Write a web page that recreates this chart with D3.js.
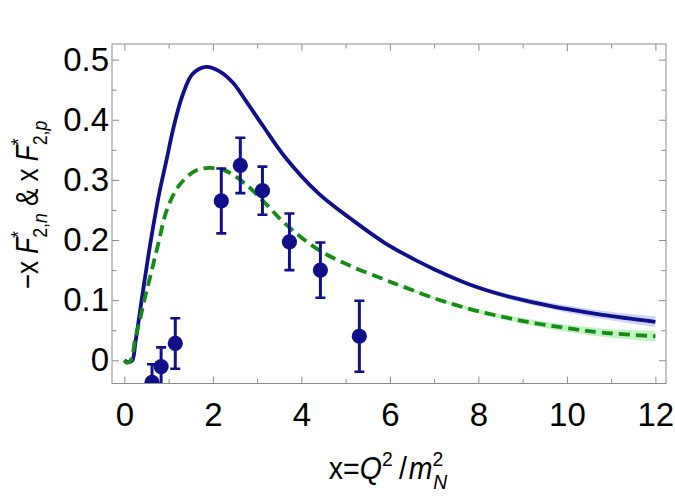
<!DOCTYPE html>
<html>
<head>
<meta charset="utf-8">
<script src="https://cdn.jsdelivr.net/npm/d3@7"></script>
<style>
  body { margin: 0; background: #fff; }
  svg text { font-family: "Liberation Sans", Arial, sans-serif; fill: #000; }
</style>
</head>
<body>
<svg id="chart" width="675" height="498"></svg>
<script>
// solid curve (blue)
const blueX = [0, 0.1, 0.18, 0.25, 0.35, 0.45, 0.55, 0.65, 0.79, 0.94, 1.12, 1.31, 1.54, 1.84, 2.14, 2.45, 2.75, 3.13, 3.62, 4.38, 5.14, 5.89, 6.65, 7.01, 7.77, 8.53, 9.29, 10.05, 10.8, 12];
const blueY = [0, -0.003, 0.0, 0.03, 0.08, 0.13, 0.178, 0.222, 0.279, 0.329, 0.39, 0.44, 0.476, 0.488, 0.481, 0.462, 0.431, 0.39, 0.339, 0.278, 0.234, 0.195, 0.164, 0.151, 0.127, 0.109, 0.0955, 0.0845, 0.0755, 0.064];
const blueBand = [0, 0, 0, 0, 0, 0, 0, 0, 0, 0, 0, 0, 0, 0, 0, 0, 0, 0, 0, 0, 0, 0, 0.001, 0.002, 0.003, 0.004, 0.005, 0.006, 0.007, 0.009];

// dashed curve (green)
const greenX = [0, 0.05, 0.12, 0.17, 0.24, 0.35, 0.47, 0.62, 0.77, 0.96, 1.23, 1.6, 1.91, 2.29, 2.74, 3.15, 3.62, 4.38, 5.14, 5.82, 6.26, 7.01, 7.77, 8.53, 9.29, 10.05, 10.8, 12];
const greenY = [0, -0.004, -0.002, 0.005, 0.034, 0.067, 0.106, 0.15, 0.195, 0.25, 0.29, 0.315, 0.32, 0.315, 0.293, 0.264, 0.228, 0.184, 0.156, 0.136, 0.1235, 0.103, 0.086, 0.0725, 0.0615, 0.053, 0.046, 0.04];
const greenBand = [0, 0, 0, 0, 0, 0, 0, 0, 0, 0, 0, 0, 0, 0, 0, 0, 0, 0, 0, 0, 0.001, 0.002, 0.003, 0.004, 0.005, 0.006, 0.007, 0.009];

// data points with error bars
const pointX = [0.625, 0.83, 1.15, 2.19, 2.62, 3.12, 3.73, 4.43, 5.31];
const pointY = [-0.0366, -0.0105, 0.028, 0.265, 0.324, 0.282, 0.197, 0.150, 0.040];
const pointErr = [0.03, 0.032, 0.042, 0.054, 0.046, 0.04, 0.047, 0.046, 0.059];

const xMajor = [0, 2, 4, 6, 8, 10, 12];
const xMinor = [1, 3, 5, 7, 9, 11];
const yMajor = [0, 0.1, 0.2, 0.3, 0.4, 0.5];
const yMinor = [0.05, 0.15, 0.25, 0.35, 0.45];

const pLeft = 112, pRight = 666, pTop = 44, pBottom = 383.5;
const blue = '#10108a', green = '#168c16';

const svg = d3.select('#chart');

const x = d3.scaleLinear().domain([-0.28, 12.24]).range([pLeft, pRight]);
const y = d3.scaleLinear().domain([-0.0386, 0.526]).range([pBottom, pTop]);

svg.append('clipPath').attr('id', 'plot')
  .append('rect')
  .attr('x', pLeft).attr('y', pTop)
  .attr('width', pRight - pLeft).attr('height', pBottom - pTop);

const plot = svg.append('g').attr('clip-path', 'url(#plot)');

// bands
const blueData = blueX.map((v, i) => ({x: v, y: blueY[i], e: blueBand[i]}));
const greenData = greenX.map((v, i) => ({x: v, y: greenY[i], e: greenBand[i]}));

const band = d3.area()
  .curve(d3.curveCatmullRom.alpha(0.5))
  .x(d => x(d.x))
  .y0(d => y(d.y - d.e))
  .y1(d => y(d.y + d.e));

plot.append('path').datum(greenData).attr('d', band)
  .attr('fill', 'rgb(120,225,120)').attr('opacity', 0.45);
plot.append('path').datum(blueData).attr('d', band)
  .attr('fill', 'rgb(150,160,250)').attr('opacity', 0.45);

const line = d3.line()
  .curve(d3.curveCatmullRom.alpha(0.5))
  .x(d => x(d.x))
  .y(d => y(d.y));

plot.append('path').datum(blueData).attr('d', line)
  .attr('fill', 'none').attr('stroke', blue).attr('stroke-width', 3.8);

plot.append('path').datum(greenData).attr('d', line)
  .attr('fill', 'none').attr('stroke', green).attr('stroke-width', 3.8)
  .attr('stroke-dasharray', '11,6');

// error bars + points
const pts = pointX.map((v, i) => ({x: v, y: pointY[i], e: pointErr[i]}));
const pg = plot.append('g').attr('stroke', blue).attr('fill', blue);

pg.selectAll('line.bar').data(pts).join('line').attr('class', 'bar')
  .attr('x1', d => x(d.x)).attr('x2', d => x(d.x))
  .attr('y1', d => y(d.y - d.e)).attr('y2', d => y(d.y + d.e))
  .attr('stroke-width', 3);

pg.selectAll('line.cap').data(pts.flatMap(d => [[d.x, d.y - d.e], [d.x, d.y + d.e]]))
  .join('line').attr('class', 'cap')
  .attr('x1', d => x(d[0]) - 5).attr('x2', d => x(d[0]) + 5)
  .attr('y1', d => y(d[1])).attr('y2', d => y(d[1]))
  .attr('stroke-width', 2.6);

pg.selectAll('circle').data(pts).join('circle')
  .attr('cx', d => x(d.x)).attr('cy', d => y(d.y))
  .attr('r', 7.6).attr('stroke', 'none');

// frame and ticks
const frameColor = '#8c8c8c';
function styleAxis(g) {
  g.select('.domain').remove();
  g.selectAll('.tick line').attr('stroke', frameColor);
  g.selectAll('.tick text').attr('font-size', 33).attr('fill', '#000');
}

svg.append('g').attr('transform', `translate(0,${pBottom})`)
  .call(d3.axisBottom(x).tickValues(xMajor).tickSize(-7).tickPadding(19).tickFormat(d3.format('d')))
  .call(styleAxis);
svg.append('g').attr('transform', `translate(0,${pBottom})`)
  .call(d3.axisBottom(x).tickValues(xMinor).tickSize(-4.5).tickFormat(''))
  .call(styleAxis);
svg.append('g').attr('transform', `translate(0,${pTop})`)
  .call(d3.axisTop(x).tickValues(xMajor).tickSize(-7).tickFormat(''))
  .call(styleAxis);
svg.append('g').attr('transform', `translate(0,${pTop})`)
  .call(d3.axisTop(x).tickValues(xMinor).tickSize(-4.5).tickFormat(''))
  .call(styleAxis);

svg.append('g').attr('transform', `translate(${pLeft},0)`)
  .call(d3.axisLeft(y).tickValues(yMajor).tickSize(-7).tickPadding(3).tickFormat(d => d === 0 ? '0' : d3.format('.1f')(d)))
  .call(styleAxis);
svg.append('g').attr('transform', `translate(${pLeft},0)`)
  .call(d3.axisLeft(y).tickValues(yMinor).tickSize(-4.5).tickFormat(''))
  .call(styleAxis);
svg.append('g').attr('transform', `translate(${pRight},0)`)
  .call(d3.axisRight(y).tickValues(yMajor).tickSize(-7).tickFormat(''))
  .call(styleAxis);
svg.append('g').attr('transform', `translate(${pRight},0)`)
  .call(d3.axisRight(y).tickValues(yMinor).tickSize(-4.5).tickFormat(''))
  .call(styleAxis);

svg.append('rect')
  .attr('x', pLeft).attr('y', pTop)
  .attr('width', pRight - pLeft).attr('height', pBottom - pTop)
  .attr('fill', 'none').attr('stroke', frameColor).attr('stroke-width', 1);

// x axis title: x=Q^2/m_N^2
const xt = svg.append('text')
  .attr('transform', 'translate(388,479) scale(0.92,1)')
  .attr('text-anchor', 'middle').attr('font-size', 31);
xt.append('tspan').text('x=');
xt.append('tspan').attr('font-style', 'italic').text('Q');
xt.append('tspan').attr('font-size', 21).attr('dy', -13).text('2');
xt.append('tspan').attr('dx', 7).attr('dy', 13).text('/');
xt.append('tspan').attr('dx', 2).attr('font-style', 'italic').text('m');
xt.append('tspan').attr('font-size', 21).attr('dy', -13).text('2');
xt.append('tspan').attr('font-size', 21).attr('font-style', 'italic').attr('dx', -11).attr('dy', 23).text('N');

// y axis title: -x F*_{2,n} & x F*_{2,p}
const yt = svg.append('text')
  .attr('transform', 'translate(38,205) rotate(-90) scale(0.84,1)')
  .attr('text-anchor', 'middle').attr('font-size', 31);
yt.append('tspan').text('\u2212x ');
yt.append('tspan').attr('font-style', 'italic').text('F');
yt.append('tspan').attr('font-size', 21).attr('dy', -13).text('*');
const s1 = yt.append('tspan').attr('font-size', 21).attr('dx', -8).attr('dy', 22);
s1.append('tspan').text('2,');
s1.append('tspan').attr('font-style', 'italic').text('n');
yt.append('tspan').attr('dy', -9).text(' & x ');
yt.append('tspan').attr('font-style', 'italic').text('F');
yt.append('tspan').attr('font-size', 21).attr('dy', -13).text('*');
const s2 = yt.append('tspan').attr('font-size', 21).attr('dx', -8).attr('dy', 22);
s2.append('tspan').text('2,');
s2.append('tspan').attr('font-style', 'italic').text('p');
</script>
</body>
</html>
